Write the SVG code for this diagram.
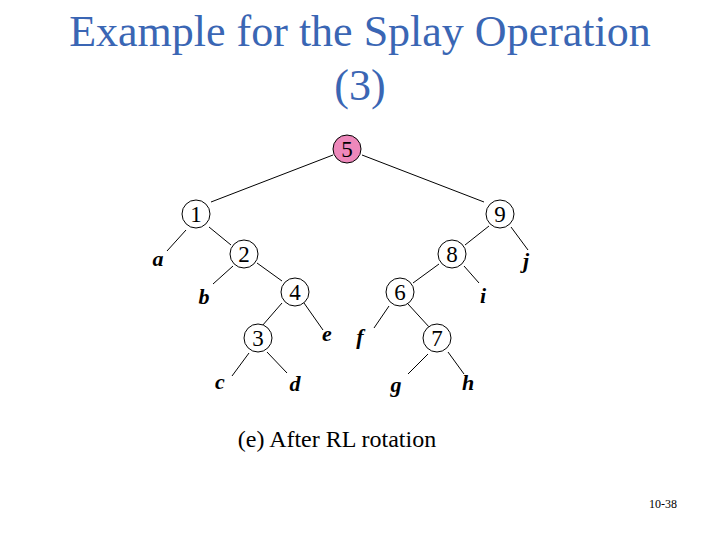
<svg xmlns="http://www.w3.org/2000/svg" width="720" height="540" viewBox="0 0 720 540">
<style>
.t{font-family:"Liberation Serif",serif;fill:#3a66b4;font-size:44px;text-anchor:middle}
.n circle{fill:#fff;stroke:#000;stroke-width:1}
.n text{font-family:"Liberation Serif",serif;font-size:23px;text-anchor:middle;fill:#000}
.l{font-family:"Liberation Serif",serif;font-size:22px;font-style:italic;font-weight:bold;text-anchor:middle}
#edges line{stroke:#000;stroke-width:1}
</style>
<rect width="720" height="540" fill="#fff"/>
<text class="t" x="360" y="46">Example for the Splay Operation</text>
<text class="t" x="360" y="100">(3)</text>
<g id="edges">
<line x1="333" y1="155" x2="211" y2="202"/>
<line x1="362" y1="155" x2="484" y2="202"/>
<line x1="186" y1="230" x2="167" y2="251"/>
<line x1="209" y1="227" x2="231" y2="245"/>
<line x1="233" y1="266" x2="213" y2="284"/>
<line x1="257" y1="263" x2="282" y2="281"/>
<line x1="282" y1="303" x2="262" y2="326"/>
<line x1="304" y1="303" x2="323" y2="330"/>
<line x1="249" y1="353" x2="232" y2="376"/>
<line x1="267" y1="352" x2="287" y2="373"/>
<line x1="489" y1="226" x2="465" y2="245"/>
<line x1="511" y1="227" x2="528" y2="250"/>
<line x1="439" y1="264" x2="413" y2="283"/>
<line x1="464" y1="266" x2="479" y2="283"/>
<line x1="389" y1="306" x2="374" y2="328"/>
<line x1="408" y1="304" x2="430" y2="328"/>
<line x1="428" y1="354" x2="408" y2="374"/>
<line x1="448" y1="352" x2="464" y2="374"/>
</g>
<g id="n5" class="n"><circle cx="347" cy="149" r="14" style="fill:#ee88bb"/><text x="347" y="157">5</text></g>
<g id="n1" class="n"><circle cx="196" cy="214" r="14"/><text x="196" y="222">1</text></g>
<g id="n9" class="n"><circle cx="500" cy="214" r="14"/><text x="500" y="222">9</text></g>
<g id="n2" class="n"><circle cx="244" cy="254" r="14"/><text x="244" y="262">2</text></g>
<g id="n8" class="n"><circle cx="452" cy="254" r="14"/><text x="452" y="262">8</text></g>
<g id="n4" class="n"><circle cx="295" cy="292" r="14"/><text x="295" y="300">4</text></g>
<g id="n6" class="n"><circle cx="400" cy="292" r="14"/><text x="400" y="300">6</text></g>
<g id="n3" class="n"><circle cx="258" cy="338" r="14"/><text x="258" y="346">3</text></g>
<g id="n7" class="n"><circle cx="437" cy="338" r="14"/><text x="437" y="346">7</text></g>
<g id="leaves">
<text class="l" x="158" y="266">a</text>
<text class="l" x="204" y="304">b</text>
<text class="l" x="220" y="389">c</text>
<text class="l" x="295" y="391">d</text>
<text class="l" x="327" y="341">e</text>
<text class="l" x="360" y="344">f</text>
<text class="l" x="396" y="392">g</text>
<text class="l" x="468" y="390">h</text>
<text class="l" x="483" y="303">i</text>
<text class="l" x="526" y="268">j</text>
</g>
<text x="337" y="447" style="font-family:'Liberation Serif',serif;font-size:24px;text-anchor:middle">(e) After RL rotation</text>
<text x="677" y="508" style="font-family:'Liberation Serif',serif;font-size:12px;text-anchor:end">10-38</text>
</svg>
